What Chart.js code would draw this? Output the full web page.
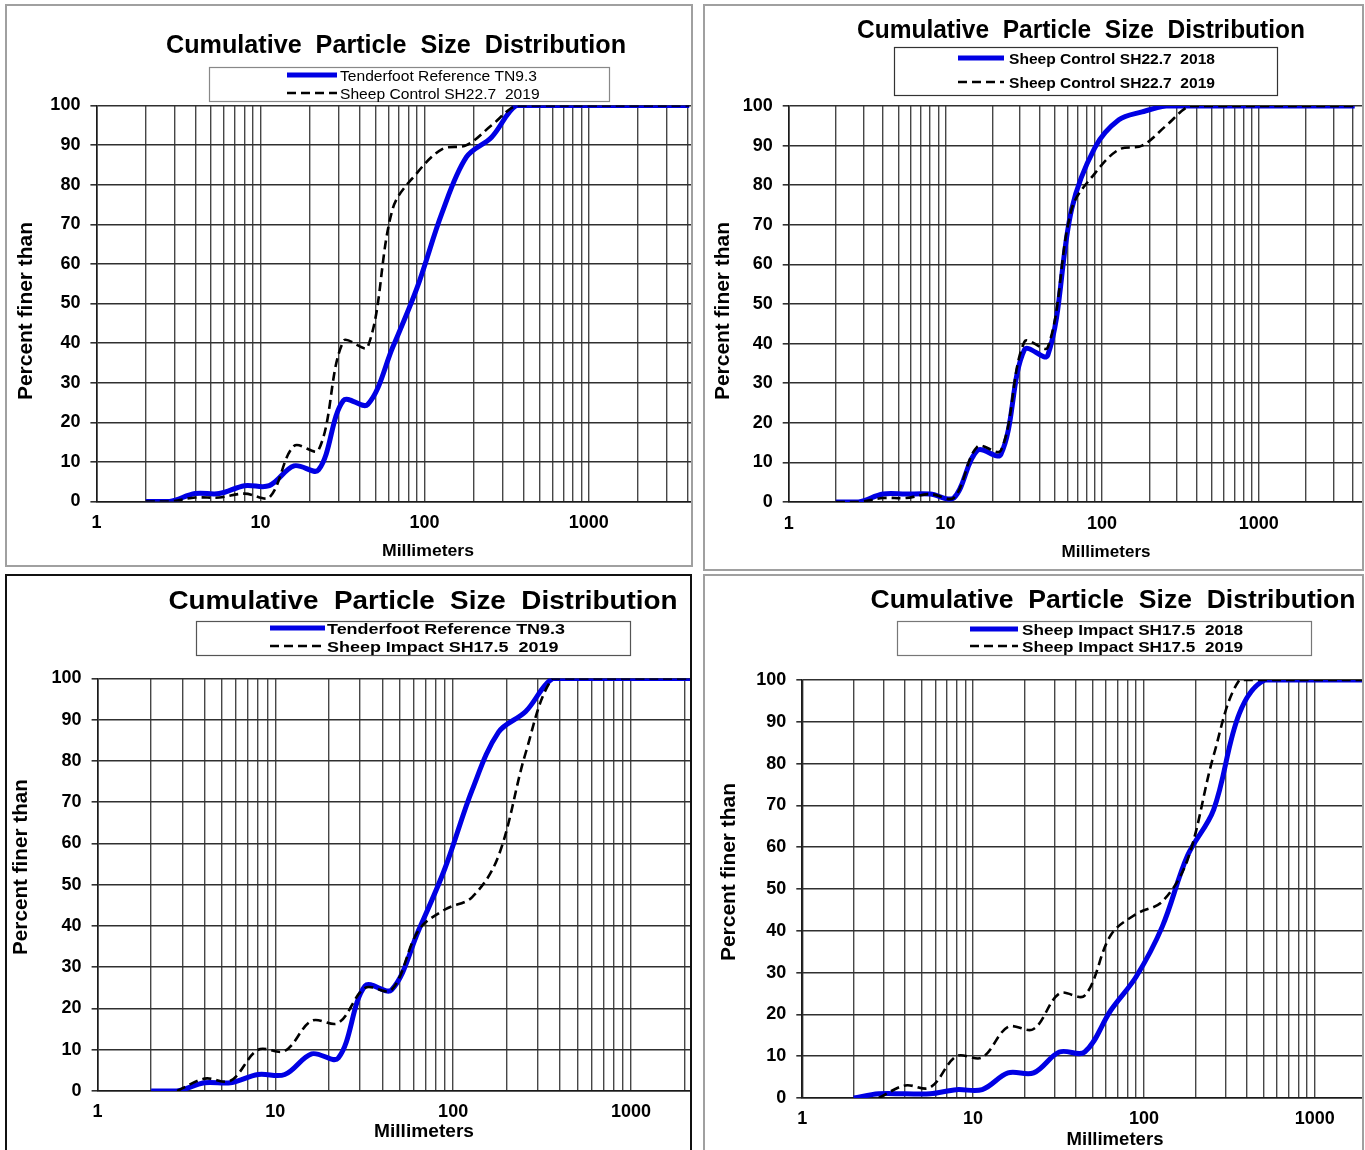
<!DOCTYPE html>
<html>
<head>
<meta charset="utf-8">
<title>Cumulative Particle Size Distribution</title>
<script src="https://cdn.jsdelivr.net/npm/chart.js@4.4.1/dist/chart.umd.min.js"></script>
<style>
  html, body { margin: 0; padding: 0; background: #fff; }
  body { position: relative; width: 1365px; height: 1150px; overflow: hidden; }
  .panel { position: absolute; box-sizing: border-box; border: 2px solid #a0a0a0; background: #fff; overflow: hidden; }
  .panel canvas { display: block; }
</style>
</head>
<body>
<div class="panel" style="left:5px;top:4px;width:688px;height:563px;"><canvas id="c1"></canvas></div>
<div class="panel" style="left:703px;top:4px;width:661px;height:567px;"><canvas id="c2"></canvas></div>
<div class="panel" style="left:5px;top:574px;width:687px;height:600px;border-color:#111;"><canvas id="c3"></canvas></div>
<div class="panel" style="left:703px;top:574px;width:661px;height:600px;"><canvas id="c4"></canvas></div>

<script>
// Sieve sizes (mm) and cumulative percent finer for each site/year
const sieveSizes       = [2, 2.8, 4, 5.6, 8, 11.3, 16, 22.6, 32, 45, 64, 90, 128, 180, 256, 362, 512, 1024, 2048, 4096];
const tenderfootTN93   = [0, 0, 2, 2, 4, 4, 9, 8, 25.5, 24.5, 39, 54, 73, 87, 92, 100, 100, 100, 100, 100];
const sheepControl2018 = [0, 0, 2, 2, 2, 1, 13, 12, 38.5, 37, 74, 89.5, 96.5, 98.5, 100, 100, 100, 100, 100, 100];
const sheepControl2019 = [0, 0, 1, 1, 2, 1, 14, 13, 40.5, 39, 74, 83, 89, 90, 95, 100, 100, 100, 100, 100];
const sheepImpact2018  = [0, 1, 1, 1, 2, 2, 6, 6, 11, 11, 21, 29, 41, 58, 69, 92, 100, 100, 100, 100];
const sheepImpact2019  = [null, 0, 3, 2.5, 10, 9.7, 17, 16.5, 25, 24.5, 39, 44, 47, 57, 82, 100, 100, 100, 100, 100];

// Axis ticks
const percentTicks = [0, 10, 20, 30, 40, 50, 60, 70, 80, 90, 100];
const mmTickLabels = [1, 10, 100, 1000];

const chartTitle = 'Cumulative  Particle  Size  Distribution';
const yAxisTitle = 'Percent finer than';
const xAxisTitle = 'Millimeters';

const BLUE = 'rgb(0,0,228)';
const FONT = '"Liberation Sans", Arial, Helvetica, sans-serif';

// Grid positions on the log axis: 1..9 in every decade
function logGridValues(max) {
  const out = [];
  for (const d of mmTickLabels) {
    for (let m = 1; m <= 9; m++) {
      const v = m * d;
      if (v <= max) out.push(v);
    }
  }
  return out;
}

function fitText(ctx, text, x, y, w, font, align, baseline, rotate) {
  ctx.save();
  ctx.font = font;
  ctx.fillStyle = '#000';
  ctx.textAlign = align;
  ctx.textBaseline = baseline;
  const natural = ctx.measureText(text).width;
  ctx.translate(x, y);
  if (rotate) ctx.rotate(-Math.PI / 2);
  ctx.scale(w / natural, 1);
  ctx.fillText(text, 0, 0);
  ctx.restore();
}

// Title, boxed legend and axis titles for one panel
function makeDecor(p, series, ox, oy) {
  return {
    id: 'panelDecor',
    afterDraw(chart) {
      const ctx = chart.ctx;
      const t = p.title;
      fitText(ctx, chartTitle, t.cx - ox, t.base - oy, t.w, `bold ${t.size}px ${FONT}`, 'center', 'alphabetic', false);

      const L = p.legend;
      ctx.save();
      ctx.strokeStyle = L.border;
      ctx.lineWidth = 1.2;
      ctx.strokeRect(L.box[0] - ox, L.box[1] - oy, L.box[2] - L.box[0], L.box[3] - L.box[1]);
      const lf = `${L.bold ? 'bold ' : ''}${L.size}px ${FONT}`;
      ctx.font = lf;
      const k = L.tw / ctx.measureText(series[0].label).width;
      series.forEach((s, i) => {
        const ry = L.rows[i] - oy;
        ctx.save();
        ctx.beginPath();
        ctx.strokeStyle = s.solid ? BLUE : '#000';
        ctx.lineWidth = s.solid ? 5 : 2.6;
        ctx.setLineDash(s.solid ? [] : [9, 5]);
        ctx.moveTo(L.x0 - ox, ry);
        ctx.lineTo(L.x1 - ox, ry);
        ctx.stroke();
        ctx.restore();
        ctx.save();
        ctx.font = lf;
        ctx.fillStyle = '#000';
        ctx.textAlign = 'left';
        ctx.textBaseline = 'alphabetic';
        ctx.translate(L.tx - ox, ry + L.size * 0.36);
        ctx.scale(k, 1);
        ctx.fillText(s.label, 0, 0);
        ctx.restore();
      });
      ctx.restore();

      const yt = p.yTitle;
      fitText(ctx, yAxisTitle, yt.cx - ox, yt.cy - oy, yt.len, `bold ${yt.size}px ${FONT}`, 'center', 'middle', true);
      const xt = p.xTitle;
      fitText(ctx, xAxisTitle, xt.cx - ox, xt.base - oy, xt.w, `bold ${xt.size}px ${FONT}`, 'center', 'alphabetic', false);
    }
  };
}

function makeChart(p, series) {
  const cv = document.getElementById(p.canvas);
  const cw = p.box.w - 4, ch = p.box.h - 4;
  cv.width = cw; cv.height = ch;
  cv.style.width = cw + 'px'; cv.style.height = ch + 'px';
  const ox = p.box.x + 2, oy = p.box.y + 2;
  const yW = 70, xH = 40;
  const gridVals = logGridValues(p.xMax);

  const datasets = series.map(s => ({
    label: s.label,
    data: sieveSizes.map((x, i) => ({ x: x, y: s.values[i] })).filter(pt => pt.y !== null),
    borderColor: s.solid ? BLUE : '#000',
    borderWidth: s.solid ? 5 : 2.6,
    borderDash: s.solid ? [] : [9, 5],
    borderCapStyle: 'butt',
    pointRadius: 0,
    pointHoverRadius: 0,
    tension: 0.35,
    fill: false,
    order: s.solid ? 1 : 0
  }));

  const tickFont = { family: FONT, size: p.tickSize, weight: 'bold' };

  return new Chart(cv, {
    type: 'line',
    data: { datasets },
    options: {
      responsive: false,
      maintainAspectRatio: false,
      animation: false,
      events: [],
      layout: {
        padding: {
          left: p.plot.left - ox - yW,
          top: p.plot.top - oy,
          right: 0,
          bottom: oy + ch - p.plot.bottom - xH
        }
      },
      plugins: { legend: { display: false }, title: { display: false }, tooltip: { enabled: false } },
      scales: {
        x: {
          type: 'logarithmic',
          min: 1,
          max: p.xMax,
          afterBuildTicks: s => { s.ticks = gridVals.map(v => ({ value: v })); },
          afterFit: s => { s.height = xH; s.paddingLeft = 0; s.paddingRight = 0; },
          grid: { color: '#474747', lineWidth: 1.4, drawTicks: false },
          border: { display: true, color: '#1a1a1a', width: 1.6 },
          ticks: {
            autoSkip: false, maxRotation: 0, minRotation: 0,
            padding: p.xPad, color: '#000', font: tickFont,
            callback: v => (mmTickLabels.includes(v) ? String(v) : '')
          }
        },
        y: {
          type: 'linear',
          min: 0,
          max: 100,
          afterBuildTicks: s => { s.ticks = percentTicks.map(v => ({ value: v })); },
          afterFit: s => { s.width = yW; },
          grid: { color: '#303030', lineWidth: 1.6, tickLength: 6 },
          border: { display: true, color: '#1a1a1a', width: 1.6 },
          ticks: { padding: 10, color: '#000', font: tickFont }
        }
      }
    },
    plugins: [makeDecor(p, series, ox, oy)]
  });
}

const panels = [
  {
    canvas: 'c1', box: { x: 5, y: 4, w: 688, h: 563 },
    plot: { left: 96.4, top: 105.5, bottom: 501.5 }, xMax: 4200, xPad: 11, tickSize: 18,
    title: { cx: 396, base: 53, w: 460, size: 25 },
    legend: { box: [209.5, 67.5, 609.5, 101.5], x0: 287, x1: 337, tx: 340, rows: [75, 93], tw: 197, size: 15.5, bold: false, border: '#888' },
    yTitle: { cx: 26, cy: 311, len: 178, size: 21 },
    xTitle: { cx: 428, base: 556, w: 92, size: 17 }
  },
  {
    canvas: 'c2', box: { x: 703, y: 4, w: 661, h: 567 },
    plot: { left: 788.7, top: 106, bottom: 502 }, xMax: 4560, xPad: 11, tickSize: 18,
    title: { cx: 1081, base: 38, w: 448, size: 25 },
    legend: { box: [894.5, 47.5, 1277.5, 95.5], x0: 958, x1: 1004, tx: 1009, rows: [58, 82], tw: 206, size: 15.5, bold: true, border: '#333' },
    yTitle: { cx: 723, cy: 311, len: 178, size: 21 },
    xTitle: { cx: 1106, base: 557, w: 89, size: 17 }
  },
  {
    canvas: 'c3', box: { x: 5, y: 574, w: 687, h: 600 },
    plot: { left: 97.6, top: 678.5, bottom: 1091 }, xMax: 2150, xPad: 10.5, tickSize: 18,
    title: { cx: 423, base: 609, w: 509, size: 26 },
    legend: { box: [196.5, 621.5, 630.5, 655.5], x0: 270, x1: 325, tx: 327, rows: [628, 646], tw: 238, size: 15.5, bold: true, border: '#555' },
    yTitle: { cx: 21.5, cy: 867, len: 176, size: 21 },
    xTitle: { cx: 424, base: 1137, w: 100, size: 18 }
  },
  {
    canvas: 'c4', box: { x: 703, y: 574, w: 661, h: 600 },
    plot: { left: 802.3, top: 680, bottom: 1098 }, xMax: 1890, xPad: 10.5, tickSize: 18,
    title: { cx: 1113, base: 608, w: 485, size: 25 },
    legend: { box: [897.5, 621.5, 1311.5, 655.5], x0: 970, x1: 1018, tx: 1022, rows: [629, 646], tw: 221, size: 15.5, bold: true, border: '#777' },
    yTitle: { cx: 729, cy: 872, len: 178, size: 21 },
    xTitle: { cx: 1115, base: 1145, w: 97, size: 18 }
  }
];

makeChart(panels[0], [
  { label: 'Tenderfoot Reference TN9.3', values: tenderfootTN93, solid: true },
  { label: 'Sheep Control SH22.7  2019', values: sheepControl2019, solid: false }
]);
makeChart(panels[1], [
  { label: 'Sheep Control SH22.7  2018', values: sheepControl2018, solid: true },
  { label: 'Sheep Control SH22.7  2019', values: sheepControl2019, solid: false }
]);
makeChart(panels[2], [
  { label: 'Tenderfoot Reference TN9.3', values: tenderfootTN93, solid: true },
  { label: 'Sheep Impact SH17.5  2019', values: sheepImpact2019, solid: false }
]);
makeChart(panels[3], [
  { label: 'Sheep Impact SH17.5  2018', values: sheepImpact2018, solid: true },
  { label: 'Sheep Impact SH17.5  2019', values: sheepImpact2019, solid: false }
]);
</script>
</body>
</html>
